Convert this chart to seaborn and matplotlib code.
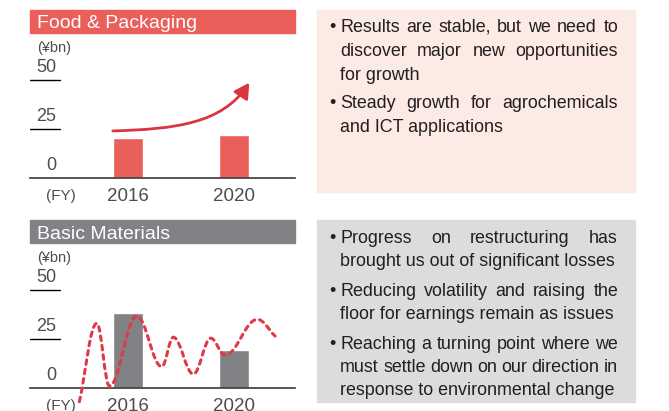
import matplotlib
matplotlib.use("Agg")
import numpy as np
import pandas as pd
import matplotlib.pyplot as plt
import seaborn as sns
from matplotlib.path import Path
from matplotlib.patches import PathPatch, FancyArrowPatch, Rectangle

# ---- data ----
years = ["2016", "2020"]
food_values = [20.3, 21.9]
basic_values = [38.3, 19.4]
ref_lines = [25, 50]
tick_values = [0, 25, 50]

# rising trend arrow (food & packaging): start, two control points, tip
trend_x = [-0.144, 0.443, 0.887, 1.144]
trend_y = [24.0, 25.0, 27.6, 48.6]

# volatile earnings wave (basic materials): turning points of the dashed curve
wave_x = [-0.459, -0.295, -0.176, 0.082, 0.318, 0.427, 0.616, 0.780, 0.915, 1.220, 1.387]
wave_y = [-7.0, 33.0, 1.0, 36.7, 10.9, 25.9, 7.1, 25.4, 16.8, 35.0, 26.5]

food_notes = [
    ["Results are stable, but we need to",
     "discover major new opportunities",
     "for growth"],
    ["Steady growth for agrochemicals",
     "and ICT applications"],
]
basic_notes = [
    ["Progress on restructuring has",
     "brought us out of significant losses"],
    ["Reducing volatility and raising the",
     "floor for earnings remain as issues"],
    ["Reaching a turning point where we",
     "must settle down on our direction in",
     "response to environmental change"],
]

RED = "#EB5F5A"
GREY = "#808285"
PINK_BOX = "#FCEAE5"
GREY_BOX = "#DCDCDC"
WAVE = "#E03A47"
ARROW = "#DA3640"
TEXT = "#231F20"
LABEL = "#4D4D4D"

W, H = 669, 411
SCALE = 1.96  # px per yen-bn unit
YMAX = 70


def px(x, y):
    return x / W, 1 - y / H


def smooth_path(xs, ys, pull=0.38):
    verts = [(xs[0], ys[0])]
    codes = [Path.MOVETO]
    n = len(xs)
    for i in range(n - 1):
        dx = xs[i + 1] - xs[i]
        dy = ys[i + 1] - ys[i]
        c1 = (xs[i] + pull * dx, ys[i] if i > 0 else ys[i] + pull * dy)
        c2 = (xs[i + 1] - pull * dx, ys[i + 1] if i + 1 < n - 1 else ys[i + 1] - pull * dy)
        verts += [c1, c2, (xs[i + 1], ys[i + 1])]
        codes += [Path.CURVE4] * 3
    return Path(verts, codes)


def panel(fig, top, bottom, title, color, values):
    # title band
    fig.patches.append(Rectangle(px(30, top + 23), 265 / W, 23 / H, transform=fig.transFigure,
                                 color=color, zorder=0))
    fig.text(*px(37, top + 18.5), title, color="white", fontsize=14, va="baseline", ha="left")

    ax = fig.add_axes([30 / W, 1 - bottom / H, 265 / W, YMAX * SCALE / H])
    df = pd.DataFrame({"year": years, "value": values})
    sns.barplot(data=df, x="year", y="value", color=color, saturation=1, width=0.283, ax=ax)
    ax.set_xlim(-0.925, 1.575)
    ax.set_ylim(0, YMAX)
    ax.set_facecolor("none")
    sns.despine(ax=ax, left=True)
    ax.spines["bottom"].set_color("#3a3a3a")
    ax.spines["bottom"].set_linewidth(1.2)
    ax.set_yticks([])
    ax.set_xlabel("")
    ax.set_ylabel("")
    ax.tick_params(axis="x", length=0, pad=7, labelsize=13.5, labelcolor=LABEL)

    for v in ref_lines:
        ax.axhline(v, xmin=0, xmax=30 / 265, color="black", lw=1)
    for v in tick_values:
        ax.annotate(str(v), xy=(26 / 265, v), xycoords=("axes fraction", "data"),
                    xytext=(0, 3), textcoords="offset points", ha="right", va="bottom",
                    fontsize=13, color=LABEL)

    fig.text(*px(37, top + 42), "(¥bn)", fontsize=10.5, color=LABEL, va="baseline")
    fig.text(*px(46, bottom + 22), "(FY)", fontsize=11, color=LABEL, va="baseline")
    return ax


def notes_box(fig, top, color, notes, base0, step, gap, size=12.9):
    fig.patches.append(Rectangle(px(317, top + 182), 318 / W, 182 / H, transform=fig.transFigure,
                                 color=color, zorder=0))
    renderer = fig.canvas.get_renderer()
    left, right = 340, 618
    y = base0
    for para in notes:
        fig.text(*px(332, y), "•", ha="center", va="baseline", fontsize=size, color=TEXT)
        for j, line in enumerate(para):
            words = line.split()
            if j == len(para) - 1:
                fig.text(*px(left, y), line, ha="left", va="baseline", fontsize=size, color=TEXT)
            else:
                arts = [fig.text(0, 0, w, ha="left", va="baseline", fontsize=size, color=TEXT)
                        for w in words]
                widths = [a.get_window_extent(renderer).width for a in arts]
                space = (right - left - sum(widths)) / (len(words) - 1)
                x = left
                for a, w in zip(arts, widths):
                    a.set_position(px(x, y))
                    x += w + space
            y += step
        y += gap


sns.set_theme(style="white")
plt.rcParams["font.family"] = ["Liberation Sans", "DejaVu Sans"]

fig = plt.figure(figsize=(W / 100, H / 100), dpi=100)

ax_food = panel(fig, 10, 178, "Food & Packaging", RED, food_values)
trend = Path(list(zip(trend_x, trend_y)), [Path.MOVETO, Path.CURVE4, Path.CURVE4, Path.CURVE4])
ax_food.add_patch(FancyArrowPatch(path=trend, arrowstyle="-|>,head_length=0.45,head_width=0.25",
                                  mutation_scale=20, lw=2.0, color=ARROW, clip_on=False))

ax_basic = panel(fig, 220, 388, "Basic Materials", GREY, basic_values)
wave = PathPatch(smooth_path(wave_x, wave_y), fill=False, edgecolor=WAVE, lw=2.2,
                 linestyle=(0, (1.5, 1.6)), capstyle="round", clip_on=False, zorder=5)
ax_basic.add_patch(wave)

notes_box(fig, 10, PINK_BOX, food_notes, 32, 24, 3.7)
notes_box(fig, 220, GREY_BOX, basic_notes, 243, 23.4, 6)

fig.savefig("out.png", dpi=100)
